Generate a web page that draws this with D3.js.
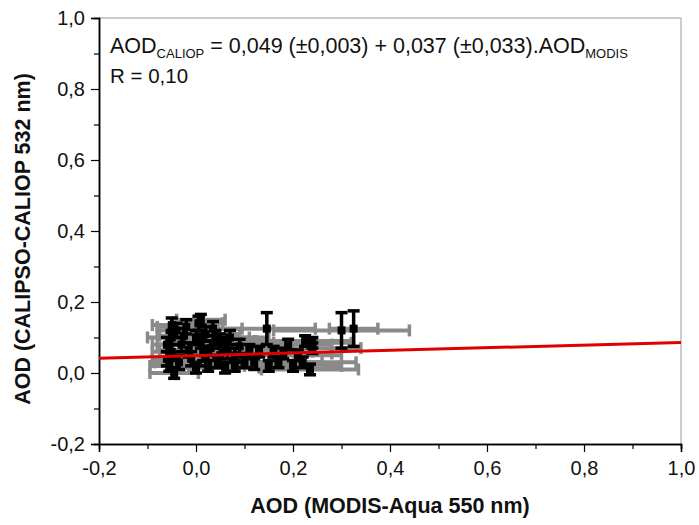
<!DOCTYPE html>
<html><head><meta charset="utf-8">
<script src="https://cdn.jsdelivr.net/npm/d3@7"></script>
<style>body{margin:0;background:#fff;} text{font-family:"Liberation Sans",Arial,sans-serif;}</style>
</head><body><svg id="c" width="699" height="525"></svg>
<script>
const modisAOD  = [-0.05,-0.04,-0.05,-0.055,-0.045,-0.03,-0.02,-0.01,0.00,0.005,0.01,0.015,0.02,0.025,0.03,0.04,0.045,0.05,0.06,0.065,0.07,0.08,0.09,0.10,0.11,0.12,0.146,0.16,0.17,0.18,0.20,0.21,0.22,0.24,0.235,0.30,0.325,0.24,
                   -0.06,-0.06,-0.05,-0.035,-0.025,-0.015,0.00,0.01,0.02,0.035,0.05,0.06,0.08,0.19,0.225,0.13,0.15];
const caliopAOD = [0.10,0.12,0.06,0.02,0.00,0.08,0.13,0.04,0.015,0.14,0.09,0.055,0.11,0.02,0.07,0.10,0.03,0.09,0.015,0.06,0.10,0.02,0.075,0.03,0.065,0.025,0.125,0.06,0.03,0.055,0.02,0.05,0.03,0.07,0.01,0.12,0.125,0.085,
                   0.08,0.04,0.135,0.03,0.105,0.065,0.10,0.15,0.04,0.125,0.05,0.08,0.05,0.08,0.09,0.06,0.02];
const modisErr  = [0.05,0.04,0.04,0.04,0.05,0.05,0.06,0.05,0.06,0.05,0.06,0.05,0.07,0.05,0.06,0.07,0.06,0.07,0.07,0.06,0.08,0.06,0.08,0.07,0.08,0.06,0.10,0.08,0.09,0.10,0.10,0.09,0.11,0.10,0.10,0.14,0.05,0.08,
                   0.03,0.03,0.04,0.05,0.05,0.06,0.06,0.05,0.06,0.06,0.06,0.07,0.07,0.09,0.10,0.07,0.08];
const caliopErr = [0.02,0.02,0.02,0.015,0.015,0.02,0.02,0.02,0.015,0.02,0.02,0.02,0.02,0.015,0.02,0.02,0.015,0.02,0.015,0.02,0.02,0.015,0.02,0.015,0.015,0.015,0.045,0.015,0.015,0.015,0.015,0.015,0.015,0.015,0.015,0.05,0.05,0.015,
                   0.02,0.02,0.02,0.02,0.02,0.02,0.02,0.015,0.02,0.02,0.02,0.02,0.02,0.015,0.015,0.015,0.015];
const intercept = 0.049, slope = 0.037;
const xTicks = [-0.2,0,0.2,0.4,0.6,0.8,1.0];
const yTicks = [-0.2,0,0.2,0.4,0.6,0.8,1.0];

const svg = d3.select("#c");
const L=99,R=681,T=18,B=444;
const x = d3.scaleLinear().domain([-0.2,1.0]).range([L,R]);
const y = d3.scaleLinear().domain([-0.2,1.0]).range([B,T]);
const fmt = d => d3.format(".1f")(d).replace(".",",").replace("−","-");

svg.append("line").attr("x1",L).attr("x2",R).attr("y1",T).attr("y2",T).attr("stroke","#999").attr("stroke-width",1);
svg.append("line").attr("x1",R).attr("x2",R).attr("y1",T).attr("y2",B).attr("stroke","#999").attr("stroke-width",1);

const xAx = svg.append("g").attr("transform",`translate(0,${B})`)
  .call(d3.axisBottom(x).tickValues(xTicks).tickFormat(fmt).tickSize(8).tickPadding(4));
svg.append("g").attr("transform",`translate(0,${B})`)
  .call(d3.axisBottom(x).tickValues(d3.range(-0.1,1.0,0.2)).tickFormat("").tickSize(5));
const yAx = svg.append("g").attr("transform",`translate(${L},0)`)
  .call(d3.axisLeft(y).tickValues(yTicks).tickFormat(fmt).tickSize(8).tickPadding(6));
svg.append("g").attr("transform",`translate(${L},0)`)
  .call(d3.axisLeft(y).tickValues(d3.range(-0.1,1.0,0.2)).tickFormat("").tickSize(5));
svg.selectAll(".domain").attr("stroke","#000").attr("stroke-width",1.5);
svg.selectAll(".tick line").attr("stroke","#000").attr("stroke-width",1.2);
svg.selectAll(".tick text").attr("font-size",20).attr("fill","#111").attr("font-family","Liberation Sans, Arial, sans-serif");
xAx.selectAll(".tick text").attr("dy","0.95em");

svg.append("text").attr("x",390).attr("y",513).attr("text-anchor","middle")
  .attr("font-size",21.5).attr("font-weight","bold").attr("fill","#111").text("AOD (MODIS-Aqua 550 nm)");
svg.append("text").attr("transform",`translate(30,${(T+B)/2+8}) rotate(-90)`).attr("text-anchor","middle")
  .attr("font-size",21.5).attr("font-weight","bold").attr("fill","#111").text("AOD (CALIPSO-CALIOP 532 nm)");

const data = modisAOD.map((d,i)=>({x:d,y:caliopAOD[i],ex:modisErr[i],ey:caliopErr[i]}));
const g = svg.append("g");
data.forEach(d=>{
  const cy=y(d.y), x1=x(d.x-d.ex), x2=x(d.x+d.ex);
  g.append("line").attr("x1",x1).attr("x2",x2).attr("y1",cy).attr("y2",cy).attr("stroke","#8a8a8a").attr("stroke-width",4);
  [x1,x2].forEach(xx=>g.append("line").attr("x1",xx).attr("x2",xx).attr("y1",cy-6).attr("y2",cy+6).attr("stroke","#8a8a8a").attr("stroke-width",3.5));
});
data.forEach(d=>{
  const cx=x(d.x), y1=y(d.y+d.ey), y2=y(d.y-d.ey);
  g.append("line").attr("x1",cx).attr("x2",cx).attr("y1",y1).attr("y2",y2).attr("stroke","#000").attr("stroke-width",3.5);
  [y1,y2].forEach(yy=>g.append("line").attr("x1",cx-6).attr("x2",cx+6).attr("y1",yy).attr("y2",yy).attr("stroke","#000").attr("stroke-width",3.5));
});
g.selectAll("rect.m").data(data).enter().append("rect")
  .attr("x",d=>x(d.x)-4).attr("y",d=>y(d.y)-4).attr("width",8).attr("height",8).attr("fill","#000");

svg.append("line").attr("x1",x(-0.2)).attr("x2",x(1.0))
  .attr("y1",y(intercept+slope*-0.2)).attr("y2",y(intercept+slope*1.0))
  .attr("stroke","#e00000").attr("stroke-width",3);

const eq = svg.append("text").attr("x",110).attr("y",53).attr("font-size",21.5).attr("fill","#111");
eq.append("tspan").text("AOD");
eq.append("tspan").attr("font-size",13).attr("dy",5).text("CALIOP");
eq.append("tspan").attr("dy",-5).text(" = 0,049 (±0,003) + 0,037 (±0,033).AOD");
eq.append("tspan").attr("font-size",13).attr("dy",5).text("MODIS");
svg.append("text").attr("x",110).attr("y",83).attr("font-size",20.5).attr("fill","#111").text("R = 0,10");
</script></body></html>
